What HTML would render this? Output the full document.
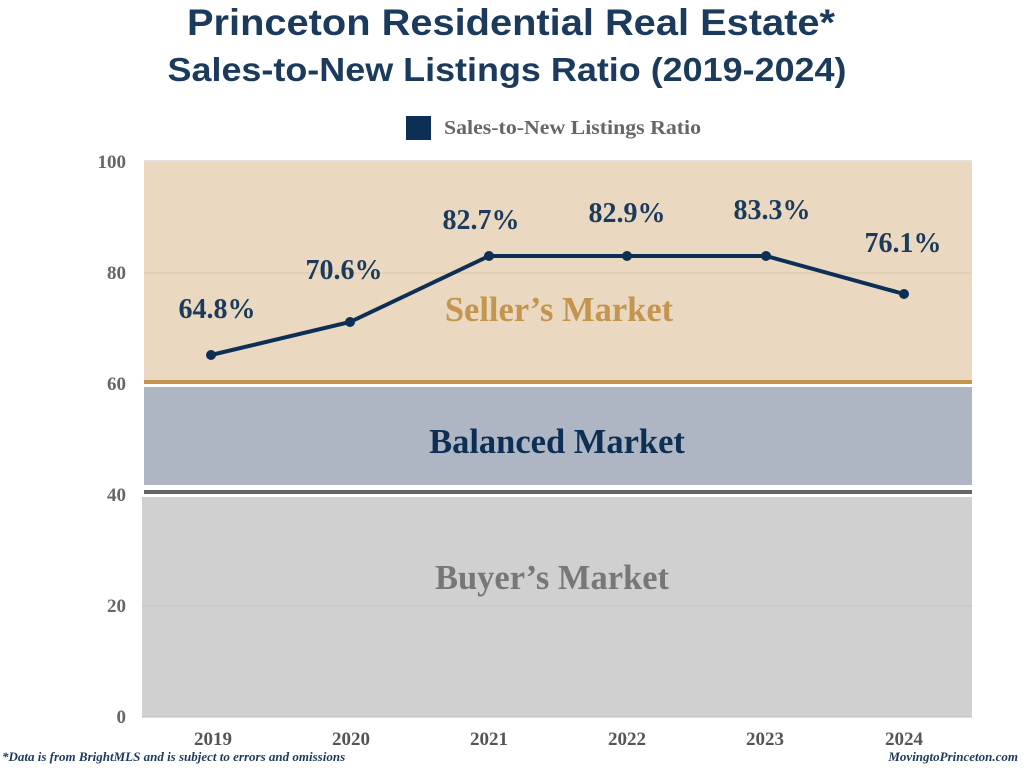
<!DOCTYPE html>
<html><head><meta charset="utf-8"><style>
body{margin:0;width:1024px;height:768px;background:#fff;overflow:hidden}
svg{display:block}
</style></head><body>
<svg width="1024" height="768" xmlns="http://www.w3.org/2000/svg">
<text x="511" y="35" text-anchor="middle" font-family="Liberation Sans" font-weight="bold" font-size="37" fill="#1b3a5c" textLength="648" lengthAdjust="spacingAndGlyphs">Princeton Residential Real Estate*</text>
<text x="507" y="81" text-anchor="middle" font-family="Liberation Sans" font-weight="bold" font-size="33" fill="#1b3a5c" textLength="679" lengthAdjust="spacingAndGlyphs">Sales-to-New Listings Ratio (2019-2024)</text>
<rect x="406" y="116" width="25" height="24" fill="#0d2e55"/>
<text x="444" y="134" font-family="Liberation Serif" font-weight="bold" font-size="20" fill="#666" textLength="257" lengthAdjust="spacingAndGlyphs">Sales-to-New Listings Ratio</text>
<rect x="144" y="160" width="828" height="2" fill="#e0e0e0"/>
<rect x="144" y="162" width="828" height="218" fill="#ead9c0"/>
<rect x="144" y="380" width="828" height="4" fill="#c4954f"/>
<rect x="144" y="387" width="828" height="98" fill="#aeb6c4"/>
<rect x="144" y="490" width="828" height="4" fill="#666"/>
<rect x="142" y="497" width="830" height="220" fill="#d0d0d0"/>
<line x1="144" y1="273" x2="972" y2="273" stroke="#d8c6ad" stroke-width="1"/>
<line x1="142" y1="606" x2="972" y2="606" stroke="#c4c4c4" stroke-width="1"/>
<line x1="142" y1="717" x2="972" y2="717" stroke="#bbb" stroke-width="1"/>
<g font-family="Liberation Serif" font-weight="bold" font-size="19" fill="#666" text-anchor="end">
<text x="126" y="168">100</text><text x="126" y="279">80</text><text x="126" y="390">60</text><text x="126" y="501">40</text><text x="126" y="612">20</text><text x="126" y="723">0</text>
</g>
<g font-family="Liberation Serif" font-weight="bold" font-size="19" fill="#555" text-anchor="middle">
<text x="213" y="745">2019</text><text x="351" y="745">2020</text><text x="489" y="745">2021</text><text x="627" y="745">2022</text><text x="765" y="745">2023</text><text x="904" y="745">2024</text>
</g>
<text x="559" y="321" text-anchor="middle" font-family="Liberation Serif" font-weight="bold" font-size="34.5" fill="#c4954f">Seller’s Market</text>
<text x="557" y="453" text-anchor="middle" font-family="Liberation Serif" font-weight="bold" font-size="34.5" fill="#0d2e55">Balanced Market</text>
<text x="552" y="589" text-anchor="middle" font-family="Liberation Serif" font-weight="bold" font-size="34.5" fill="#777">Buyer’s Market</text>
<polyline points="211,355 350,322 489,256 627,256 766,256 904,294" fill="none" stroke="#0d2e55" stroke-width="4"/>
<g fill="#0d2e55"><circle cx="211" cy="355" r="5"/><circle cx="350" cy="322" r="5"/><circle cx="489" cy="256" r="5"/><circle cx="627" cy="256" r="5"/><circle cx="766" cy="256" r="5"/><circle cx="904" cy="294" r="5"/></g>
<g font-family="Liberation Serif" font-weight="bold" font-size="28" fill="#1b3a5c" text-anchor="middle">
<text x="217" y="318">64.8%</text><text x="344" y="279">70.6%</text><text x="481" y="229">82.7%</text><text x="627" y="222">82.9%</text><text x="772" y="219">83.3%</text><text x="903" y="252">76.1%</text>
</g>
<text x="2" y="761" font-family="Liberation Serif" font-style="italic" font-weight="bold" font-size="13" fill="#1b3a5c">*Data is from BrightMLS and is subject to errors and omissions</text>
<text x="1018" y="761" text-anchor="end" font-family="Liberation Serif" font-style="italic" font-weight="bold" font-size="13" fill="#1b3a5c">MovingtoPrinceton.com</text>
</svg>
</body></html>
